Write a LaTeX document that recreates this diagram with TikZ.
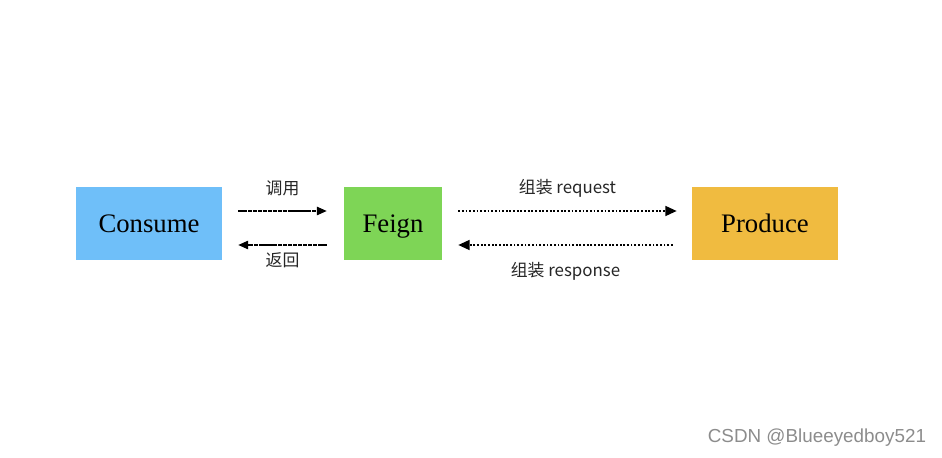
\documentclass[tikz,border=0pt]{standalone}
\usepackage{fontspec}
\usepackage{xcolor}
\setmainfont{Liberation Serif}
\newfontfamily\cjk{Noto Sans CJK SC}
\newfontfamily\markfont{Liberation Sans}
\definecolor{consumeblue}{HTML}{6FBFF9}
\definecolor{feigngreen}{HTML}{7ED556}
\definecolor{producegold}{HTML}{F0BB40}
\usetikzlibrary{arrows.meta}

\begin{document}
\begin{tikzpicture}[x=0.025cm, y=-0.025cm,
	box/.style={rectangle, minimum height=1.825cm, inner sep=0pt, text height=15pt, text depth=1.5pt, font=\fontsize{19}{22}\selectfont},
	lbl/.style={font=\cjk\fontsize{12}{14}\selectfont, text=black!85, inner sep=0pt},
	solidcall/.style={-{Triangle[length=7pt, width=6pt]}, dash pattern=on 3pt off 0.5pt, line width=0.9pt},
	dotcall/.style={-{Triangle[length=8pt, width=7pt]}, dash pattern=on 1.3pt off 1.3pt, line width=1.3pt}]
	\useasboundingbox (0,0) rectangle (942,458);
	
	\node[box, fill=consumeblue, minimum width=3.65cm] (consume) at (149,223.5) {Consume};
	
	\node[box, fill=feigngreen, minimum width=2.45cm] (feign) at (393,223.5) {Feign};
	
	\node[box, fill=producegold, minimum width=3.65cm] (produce) at (765,223.5) {Produce};
	
	\draw[solidcall] ([yshift=0.3125cm,xshift=0.4cm]consume.east) -- node[lbl, yshift=0.575cm] {调用} ([yshift=0.3125cm,xshift=-0.425cm]feign.west);
	
	\draw[solidcall] ([yshift=-0.5375cm,xshift=-0.425cm]feign.west) -- node[lbl, yshift=-0.375cm] {返回} ([yshift=-0.5375cm,xshift=0.4cm]consume.east);
	
	\draw[dotcall] ([yshift=0.3125cm,xshift=0.4cm]feign.east) -- node[lbl, yshift=0.575cm] {组装 request} ([yshift=0.3125cm,xshift=-0.375cm]produce.west);
	
	\draw[dotcall] ([yshift=-0.5375cm,xshift=-0.475cm]produce.west) -- node[lbl, yshift=-0.65cm] {组装 response} ([yshift=-0.5375cm,xshift=0.4cm]feign.east);
	
	\node[font=\markfont\fontsize{13.4}{15}\selectfont, text=black!45, anchor=east] (mark) at (931,438) {CSDN @Blueeyedboy521};
\end{tikzpicture}
\end{document}
